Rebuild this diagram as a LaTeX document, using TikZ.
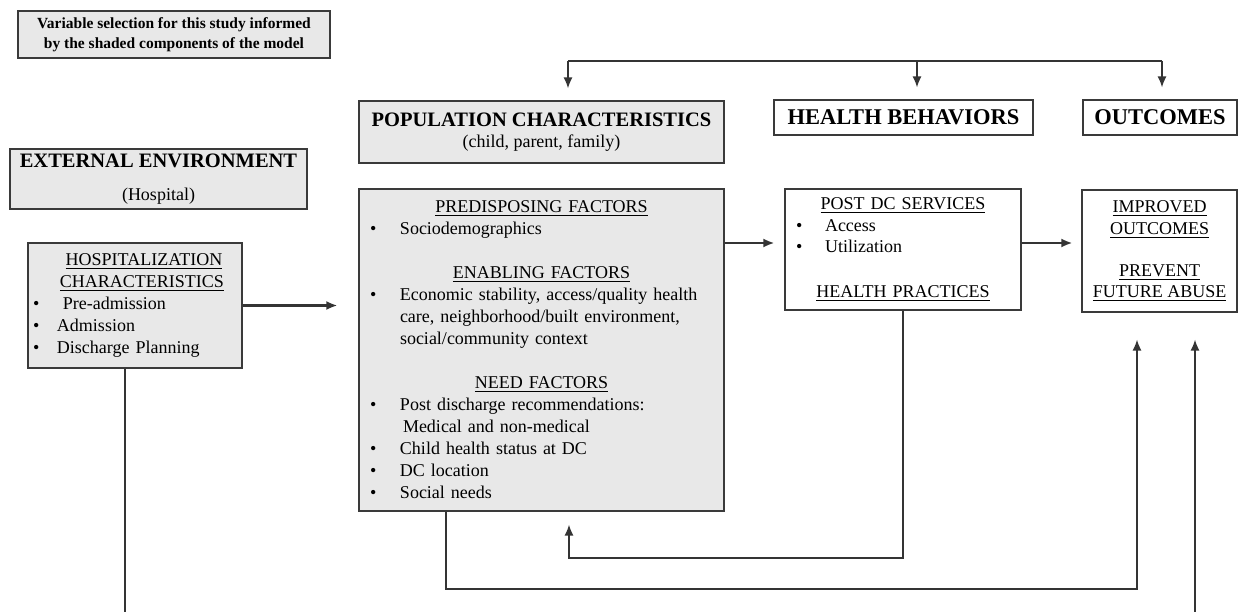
\documentclass[tikz,border=0pt]{standalone}
\usepackage{fontspec}
\setmainfont{Liberation Serif}
\usetikzlibrary{arrows.meta}
\definecolor{shade}{HTML}{E8E8E8}
\definecolor{edge}{HTML}{3A3A3A}
\newcommand{\bul}[2][27pt]{\makebox[#1][l]{\textbullet}#2}
\newcommand{\hdline}[1]{\setbox0\hbox{#1}\rlap{\rule[-3.5pt]{\wd0}{1.2pt}}\box0}
\newcommand{\hd}[2][0pt]{\makebox[\linewidth]{\hspace*{#1}\hdline{#2}}}
\begin{document}
\begin{tikzpicture}[x=1pt,y=-1pt,
        box/.style={draw=edge,line width=1.2pt,inner sep=0pt},
        shaded/.style={box,fill=shade},
        link/.style={draw=edge!90!black,line width=1.5pt},
        arr/.style={link,-{Latex[length=11pt,width=9pt]}},
        heavy/.style={line width=2.6pt}]
        \useasboundingbox(0,0)rectangle(1239,612);
        % boxes
        \node[shaded,minimum width=312pt,minimum height=47pt,align=center,font={\bfseries\fontsize{15.5}{20}\selectfont}](note)at(174,34.5){Variable selection for this study informed\\by the shaded components of the model};
        \node[shaded,minimum width=365pt,minimum height=62pt,align=center,font={\fontsize{18}{21}\selectfont}](pop)at(541.5,132){{\bfseries\fontsize{20.5}{21}\selectfont POPULATION CHARACTERISTICS}\\(child, parent, family)};
        \node[box,minimum width=259pt,minimum height=35pt,font={\bfseries\fontsize{22.5}{24}\selectfont}](hb)at(903.5,117.5){HEALTH BEHAVIORS};
        \node[box,minimum width=154pt,minimum height=35pt,font={\bfseries\fontsize{22.5}{24}\selectfont}](outc)at(1160,117.5){OUTCOMES};
        \node[shaded,minimum width=297pt,minimum height=60pt,align=center,font={\fontsize{18}{33}\selectfont}](ext)at(158.5,179){{\bfseries\fontsize{20.5}{33}\selectfont EXTERNAL ENVIRONMENT}\\(Hospital)};
        \node[shaded,minimum width=214pt,minimum height=125pt,text width=204pt,align=left,font={\fontsize{18}{22}\selectfont}](hosp)at(135,305.5){\hd[18pt]{HOSPITALIZATION}\\\hd[14pt]{CHARACTERISTICS}\\\bul[24pt]{\ Pre-admission}\\\bul[24pt]{Admission}\\\bul[24pt]{Discharge Planning}};
        \node[shaded,minimum width=365pt,minimum height=322pt,text width=343pt,align=left,font={\fontsize{18}{22}\selectfont}](big)at(541.5,350){\hd{PREDISPOSING FACTORS}\\
            \bul[30pt]{Sociodemographics}\\[22pt]
            \hd{ENABLING FACTORS}\\
            \bul[30pt]{Economic stability, access/quality health}\\
            \hspace*{30pt}care, neighborhood/built environment,\\
            \hspace*{30pt}social/community context\\[22pt]
            \hd{NEED FACTORS}\\
            \bul[30pt]{Post discharge recommendations:}\\
            \hspace*{33pt}Medical and non-medical\\
            \bul[30pt]{Child health status at DC}\\
            \bul[30pt]{DC location}\\
            \bul[30pt]{Social needs}};
        \node[box,minimum width=236pt,minimum height=121pt,text width=214pt,align=left,font={\fontsize{18}{21.5}\selectfont}](post)at(903,249.5){\hd{POST DC SERVICES}\\\bul[29pt]{Access}\\\bul[29pt]{Utilization}\\[23pt]\hd{HEALTH PRACTICES}};
        \node[box,minimum width=155pt,minimum height=122pt,align=center,font={\fontsize{18}{21.5}\selectfont}](impr)at(1159.5,251){\hdline{IMPROVED}\\\hdline{OUTCOMES}\\[20.5pt]\hdline{PREVENT}\\\hdline{FUTURE ABUSE}};
        % top bar
        \coordinate(barL)at(568,61);
        \coordinate(barM)at(917,61);
        \coordinate(barR)at(1162,61);
        \draw[link](barL)--(barR);
        \foreach \c/\n in {barL/pop,barM/hb,barR/outc}
            \draw[arr,shorten >=12pt](\c)--(\c|-\n.north);
        % left to right
        \draw[arr,heavy,shorten >=21pt](hosp.east)--(hosp.east-|big.west);
        \coordinate(pin)at([yshift=6.5pt]post.west);
        \coordinate(pout)at([yshift=6.5pt]post.east);
        \draw[arr,heavy,shorten >=10pt](pin-|big.east)--(pin);
        \draw[arr,heavy,shorten >=9pt](pout)--(pout-|impr.west);
        % feedback loops
        \coordinate(loopA)at(569,558);
        \coordinate(loopB)at(1137,589);
        \coordinate(loopC)at(1195,640);
        \draw[arr,shorten >=13pt](post.south)|-(loopA)--(loopA|-big.south);
        \draw[arr,shorten >=27pt]([xshift=-95.5pt]big.south)|-(loopB)--(loopB|-impr.south);
        \draw[arr,shorten >=27pt]([xshift=-10pt]hosp.south)|-(loopC)--(loopC|-impr.south);
    \end{tikzpicture}
\end{document}
